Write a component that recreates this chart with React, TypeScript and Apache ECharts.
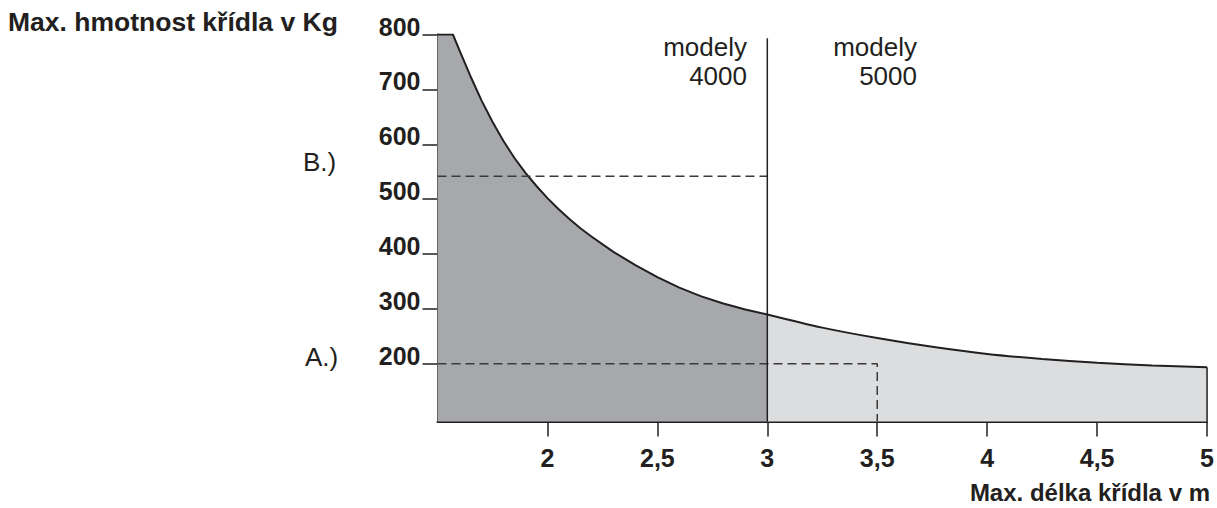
import React, { useEffect, useRef } from "react";
import * as echarts from "echarts";

// ---- data ----
const xTicks = [2, 2.5, 3, 3.5, 4, 4.5, 5];
const yTicks = [200, 300, 400, 500, 600, 700, 800];

// curve for "modely 4000" (length in m -> max weight in kg), incl. flat top
const lenA = [
  1.5, 1.57, 1.6, 1.65, 1.7, 1.75, 1.8, 1.85, 1.9, 1.95, 2.0, 2.05, 2.1, 2.15, 2.2,
  2.3, 2.4, 2.5, 2.6, 2.7, 2.8, 2.9, 3.0,
];
const wA = [
  800, 800, 771, 724, 680, 641, 606, 575, 548, 524, 502, 482, 464, 447, 432,
  404, 380, 358, 339, 323, 310, 299, 290,
];

// curve for "modely 5000"
const lenB = [3.0, 3.25, 3.5, 3.75, 4.0, 4.25, 4.5, 4.75, 5.0];
const wB = [290, 266, 247, 231, 218, 209, 202, 197, 194];

// reference lines
const divider = [[3, 95], [3, 793]];
const refB = [[1.5, 542], [3, 542]];
const refA = [[1.5, 200], [3.5, 200], [3.5, 95]];
const rightEdge = [[5, 194], [5, 95]];

const INK = "#231f20";
const DARK_FILL = "#a7a8ab";
const LIGHT_FILL = "#dcdddf";
const FONT = "'Liberation Sans', Arial, Helvetica, sans-serif";

function pairs(xs: number[], ys: number[]) {
  return xs.map((x, i) => [x, ys[i]]);
}

function label(text: string, x: number, y: number, font: string, align: string) {
  return {
    type: "text",
    x,
    y,
    style: {
      text,
      fill: INK,
      font,
      textAlign: align,
      textVerticalAlign: "middle",
      align,
      verticalAlign: "middle",
    },
  };
}

export default function App() {
  const ref = useRef<HTMLDivElement>(null);
  useEffect(() => {
    if (!ref.current) return;
    const chart = echarts.init(ref.current, undefined, { renderer: "svg" });
    const dashed = { color: "#3a3a3a", width: 1.5, type: [9, 5] as any };
    const option: any = {
      animation: false,
      grid: { left: 437.5, right: 8, top: 34.5, bottom: 86.5 },
      xAxis: {
        type: "value",
        min: 1.5,
        max: 5,
        interval: 0.5,
        axisLine: { show: true, onZero: false, lineStyle: { color: INK, width: 2 } },
        axisTick: { show: true, length: 15, customValues: xTicks, lineStyle: { color: INK, width: 1.5 } },
        axisLabel: {
          customValues: xTicks,
          formatter: (v: number) => String(v).replace(".", ","),
          fontSize: 25,
          fontWeight: "bold",
          fontFamily: FONT,
          color: INK,
          margin: 24,
        },
        splitLine: { show: false },
      },
      yAxis: {
        type: "value",
        min: 95,
        max: 800,
        axisLine: { show: true, onZero: false, lineStyle: { color: INK, width: 2 } },
        axisTick: { show: true, length: 15, customValues: yTicks, lineStyle: { color: INK, width: 1.5 } },
        axisLabel: {
          customValues: yTicks,
          fontSize: 25,
          fontWeight: "bold",
          fontFamily: FONT,
          color: INK,
          margin: 17,
          verticalAlign: "bottom",
          lineHeight: 16,
        },
        splitLine: { show: false },
      },
      series: [
        {
          type: "line",
          data: pairs(lenA, wA),
          smooth: false,
          showSymbol: false,
          lineStyle: { color: INK, width: 2, join: "round" },
          areaStyle: { color: DARK_FILL, opacity: 1, origin: "start" },
          z: 1,
        },
        {
          type: "line",
          data: pairs(lenB, wB),
          smooth: 0.3,
          showSymbol: false,
          lineStyle: { color: INK, width: 2 },
          areaStyle: { color: LIGHT_FILL, opacity: 1, origin: "start" },
          z: 1,
        },
        { type: "line", data: refB, showSymbol: false, lineStyle: dashed, z: 3 },
        { type: "line", data: refA, showSymbol: false, lineStyle: dashed, z: 3 },
        { type: "line", data: divider, showSymbol: false, lineStyle: { color: INK, width: 1.5 }, z: 4 },
        { type: "line", data: rightEdge, showSymbol: false, lineStyle: { color: INK, width: 1.5 }, z: 4 },
      ],
      graphic: [
        label("Max. hmotnost křídla v Kg", 8, 22, `bold 26.5px ${FONT}`, "left"),
        label("Max. délka křídla v m", 1210, 492, `bold 24px ${FONT}`, "right"),
        label("B.)", 303, 162, `26px ${FONT}`, "left"),
        label("A.)", 305, 357, `26px ${FONT}`, "left"),
        label("modely", 747, 47, `26px ${FONT}`, "right"),
        label("4000", 747, 76, `26px ${FONT}`, "right"),
        label("modely", 917, 47, `26px ${FONT}`, "right"),
        label("5000", 917, 76, `26px ${FONT}`, "right"),
      ],
    };
    chart.setOption(option);
    return () => chart.dispose();
  }, []);
  return (
    <div
      ref={ref}
      style={{ position: "fixed", left: 0, top: 0, width: 1217, height: 508, background: "#ffffff" }}
    />
  );
}
